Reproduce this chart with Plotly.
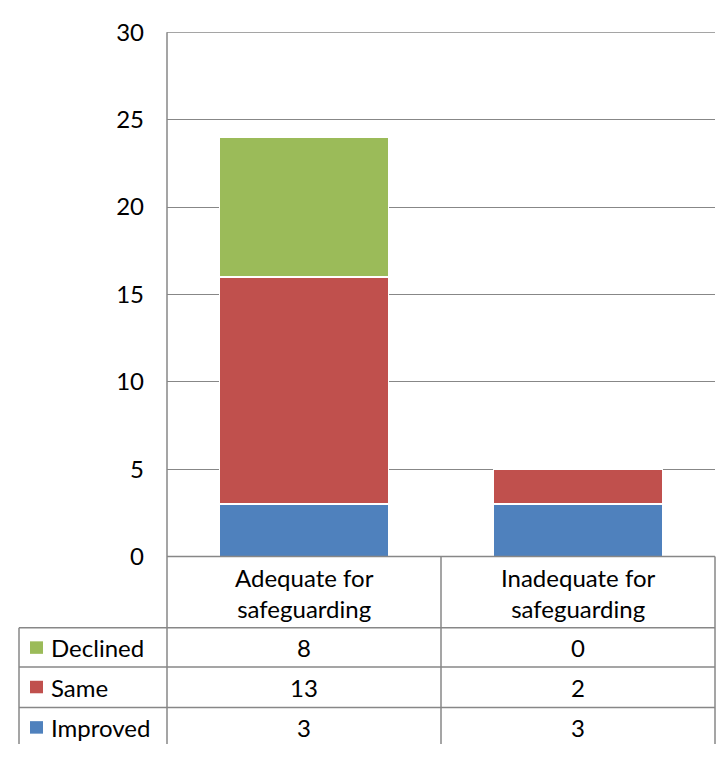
import plotly.graph_objects as go

categories = ["Adequate for<br>safeguarding", "Inadequate for<br>safeguarding"]
series_names = ["Declined", "Same", "Improved"]
declined = [8, 0]
same = [13, 2]
improved = [3, 3]
y_ticks = [0, 5, 10, 15, 20, 25, 30]

colors = {"Improved": "#4F81BD", "Same": "#C0504D", "Declined": "#9BBB59"}
W, H = 721, 757
FONT = "Lato"
FS = 24
GRID = "#878787"

def px(x):
    return x / W

def py(y):
    return 1 - y / H

# layout geometry (pixels)
PL, PR, PT, PB = 167, 715, 17, 562
TL = 19
ROW_TOP = [636, 677, 719]
ROW_H = 41.5

fig = go.Figure()
cat_idx = [0, 1]
for name, vals in [("Improved", improved), ("Same", same), ("Declined", declined)]:
    fig.add_trace(go.Bar(
        x=cat_idx, y=vals, name=name,
        marker=dict(color=colors[name], line=dict(color="white", width=1.2)),
        showlegend=False, hoverinfo="skip",
    ))

shapes = []
line = dict(color=GRID, width=1.5)
# top gridline at max tick
shapes.append(dict(type="line", xref="paper", yref="y", x0=px(PL), x1=px(PR), y0=y_ticks[-1], y1=y_ticks[-1],
                   line=dict(color=GRID, width=1.3), layer="below"))
# vertical axis line through table
shapes.append(dict(type="line", xref="paper", yref="paper", x0=px(PL), x1=px(PL), y0=py(PT), y1=py(H), line=line))
# baseline
shapes.append(dict(type="line", xref="paper", yref="paper", x0=px(PL), x1=px(PR), y0=py(PB), y1=py(PB), line=line))
# middle divider and right border
mid = (PL + PR) / 2
shapes.append(dict(type="line", xref="paper", yref="paper", x0=px(mid), x1=px(mid), y0=py(PB), y1=py(H), line=line))
shapes.append(dict(type="line", xref="paper", yref="paper", x0=px(PR), x1=px(PR), y0=py(PB), y1=py(H), line=line))
# table left border
shapes.append(dict(type="line", xref="paper", yref="paper", x0=px(TL), x1=px(TL), y0=py(ROW_TOP[0]), y1=py(H), line=line))
for r in ROW_TOP:
    shapes.append(dict(type="line", xref="paper", yref="paper", x0=px(TL), x1=px(PR), y0=py(r), y1=py(r), line=line))

annotations = []
col_centers = [(PL + mid) / 2, (mid + PR) / 2]
# category header labels
for i, c in enumerate(categories):
    annotations.append(dict(xref="paper", yref="paper", x=px(col_centers[i]), y=py(599.5),
                            text=c, showarrow=False, xanchor="center", yanchor="middle",
                            font=dict(family=FONT, size=FS, color="black")))
rows = [("Declined", declined), ("Same", same), ("Improved", improved)]
for ri, (name, vals) in enumerate(rows):
    cy = ROW_TOP[ri] + ROW_H / 2
    shapes.append(dict(type="rect", xref="paper", yref="paper",
                       x0=px(30), x1=px(43), y0=py(cy - 6.5), y1=py(cy + 6.5),
                       fillcolor=colors[name], line=dict(width=0)))
    annotations.append(dict(xref="paper", yref="paper", x=px(49), y=py(cy),
                            text=name, showarrow=False, xanchor="left", yanchor="middle",
                            font=dict(family=FONT, size=FS, color="black")))
    for ci, v in enumerate(vals):
        annotations.append(dict(xref="paper", yref="paper", x=px(col_centers[ci]), y=py(cy),
                                text=str(v), showarrow=False, xanchor="center", yanchor="middle",
                                font=dict(family=FONT, size=FS, color="black")))

fig.update_layout(
    width=W, height=H,
    margin=dict(l=0, r=0, t=0, b=0),
    paper_bgcolor="white", plot_bgcolor="white",
    barmode="stack", bargap=0.383,
    xaxis=dict(domain=[px(PL), px(PR)], range=[-0.5, 1.5], showticklabels=False,
               showgrid=False, zeroline=False, showline=False, fixedrange=True),
    yaxis=dict(domain=[py(PB), py(PT)], range=[0, 30], tickvals=y_ticks,
               showgrid=True, gridcolor=GRID, gridwidth=1.3, zeroline=False, showline=False,
               tickfont=dict(family=FONT, size=FS, color="black"), ticklabelstandoff=22,
               fixedrange=True),
    shapes=shapes, annotations=annotations,
)

fig.write_html("out.html")
